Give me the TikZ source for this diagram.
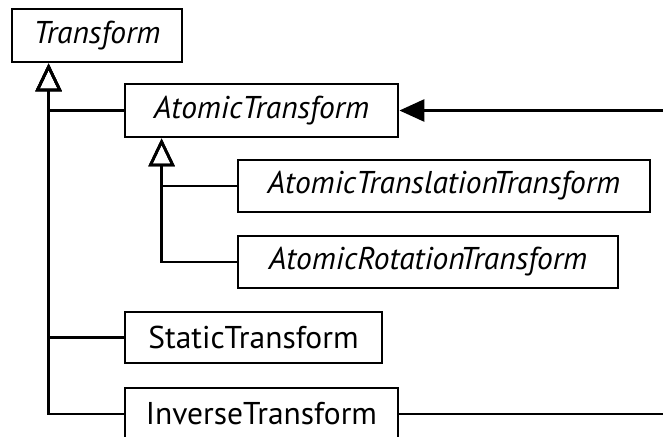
\documentclass[tikz,border=0pt]{standalone}
\usepackage{fontspec}
\setmainfont{PT Sans}
\usetikzlibrary{arrows.meta,calc}
\begin{document}
\begin{tikzpicture}[x=1pt,y=-1pt,
  cls/.style={draw, line width=2.8pt, inner sep=0pt, font=\fontsize{31.5}{36}\selectfont},
  gen/.style={line width=2.8pt, -{Triangle[open,length=28pt,width=26pt]}},
  assoc/.style={line width=2.8pt, -{Triangle[length=25pt,width=22pt]}},
  plain/.style={line width=2.8pt}]
\useasboundingbox (0,0) rectangle (663,436);
\node[cls, minimum width=170pt, minimum height=53pt] (T) at (97,35.5) {\itshape Transform};
\node[cls, minimum width=273pt, minimum height=53pt] (A) at (261.5,110.5) {\itshape AtomicTransform};
\node[cls, minimum width=412pt, minimum height=52pt] (AT) at (444,186) {\itshape AtomicTranslationTransform};
\node[cls, minimum width=380pt, minimum height=52pt] (AR) at (428,262) {\itshape AtomicRotationTransform};
\node[cls, minimum width=257pt, minimum height=51pt] (S) at (253.5,337.5) {StaticTransform};
\node[cls, minimum width=273pt, minimum height=52pt] (I) at (261.5,414) {InverseTransform};
\coordinate (tT) at ($(T.south west)+(38,0)$);
\coordinate (tA) at ($(A.south west)+(38,0)$);
\coordinate (ein) at (663,110.5);
\coordinate (eout) at (663,414);
\draw[gen] (A.west) -| (tT);
\draw[gen] (S.west) -| (tT);
\draw[gen] (I.west) -| (tT);
\draw[gen] (AT.west) -| (tA);
\draw[gen] (AR.west) -| (tA);
\draw[assoc] (ein) -- (A.east);
\draw[plain] (I.east) -- (eout);
\end{tikzpicture}
\end{document}
